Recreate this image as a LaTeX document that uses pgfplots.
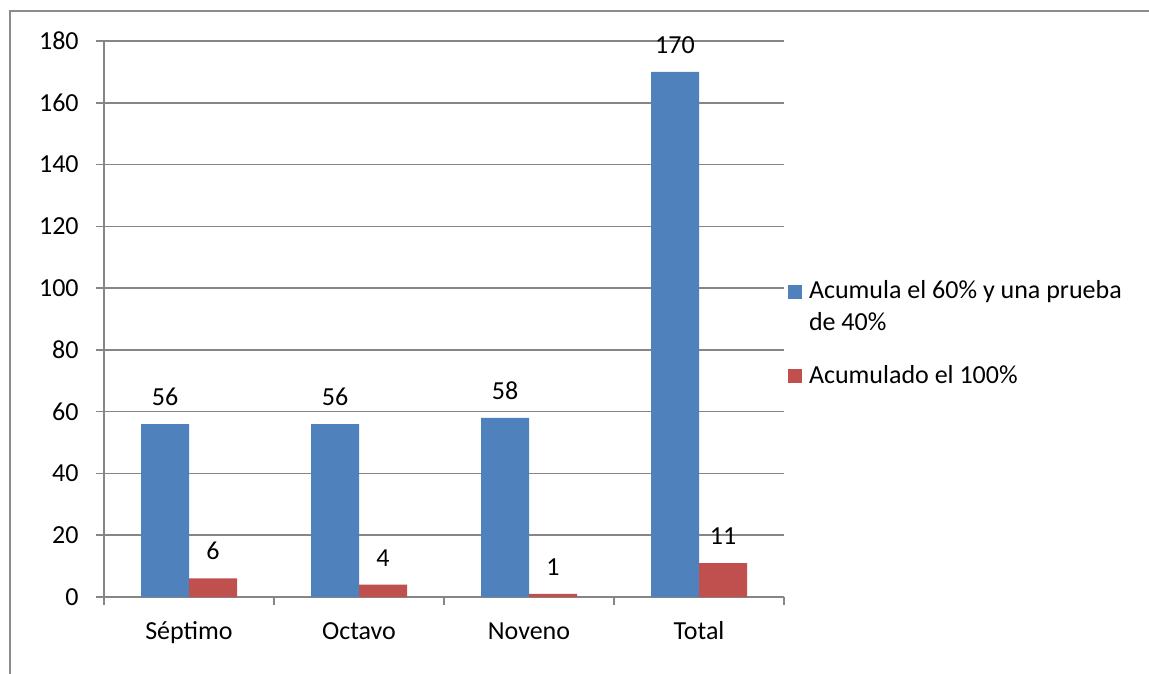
\documentclass[border=0pt]{standalone}
\usepackage{pgfplots}
\pgfplotsset{compat=1.18}
\usepackage{fontspec}
\setmainfont{Carlito}
\definecolor{serieA}{HTML}{4F81BD}
\definecolor{serieB}{HTML}{C0504D}
\definecolor{ejes}{HTML}{868686}
\definecolor{marco}{HTML}{8C8C8C}

\begin{document}
\fontsize{13bp}{16bp}\selectfont
\begin{tikzpicture}
\useasboundingbox (0,0) rectangle (574.5bp,-337bp);
% outer chart frame
\draw[marco, line width=1bp] (4.75bp,-337bp) -- (4.75bp,-5.5bp) -- (574.5bp,-5.5bp);
\begin{axis}[
  /pgf/number format/assume math mode=true,
  at={(52bp,-298.5bp)}, anchor=south west,
  scale only axis, width=340bp, height=278bp,
  xmin=-0.5, xmax=3.5, ymin=0, ymax=180,
  axis x line*=bottom, axis y line*=left,
  axis line style={ejes, line width=0.75bp},
  ytick={0,20,...,180},
  ymajorgrids, grid style={ejes, line width=0.75bp},
  tick style={ejes, line width=0.75bp},
  tick align=outside, major tick length=4bp,
  xtick={-0.5,0.5,1.5,2.5,3.5}, xticklabels={},
  extra x ticks={0,1,2,3},
  extra x tick labels={Séptimo,Octavo,Noveno,Total},
  extra x tick style={major tick length=0pt},
  xticklabel style={anchor=base, inner sep=0pt, yshift=-21bp},
  yticklabel style={anchor=east, inner sep=0pt, xshift=-8.5bp},
  ticklabel style={font=\fontsize{13bp}{16bp}\selectfont, text=black},
  ybar=0pt, bar width=24bp,
  nodes near coords,
  nodes near coords style={font=\fontsize{13bp}{16bp}\selectfont, text=black,
    anchor=south, inner sep=0pt, yshift=9bp},
  legend cell align=left,
  legend style={at={(1.00588,0.5701)}, anchor=north west, draw=none, fill=none,
    inner sep=0pt, outer sep=0pt, row sep=15.5bp, column sep=3.5bp,
    font=\fontsize{13bp}{16bp}\selectfont,
    nodes={inner sep=0pt, align=left}},
]
\addplot[fill=serieA, draw=none,
  legend image code/.code={\fill[serieA] (0bp,4.2bp) rectangle (7bp,11.2bp);}]
  coordinates {(0,56) (1,56) (2,58) (3,170)};
\addplot[fill=serieB, draw=none,
  legend image code/.code={\fill[serieB] (0bp,-3.5bp) rectangle (7bp,3.5bp);}]
  coordinates {(0,6) (1,4) (2,1) (3,11)};
\addlegendentry{Acumula el 60\% y una prueba\\de 40\%}
\addlegendentry{Acumulado el 100\%}
\end{axis}
\end{tikzpicture}
\end{document}
